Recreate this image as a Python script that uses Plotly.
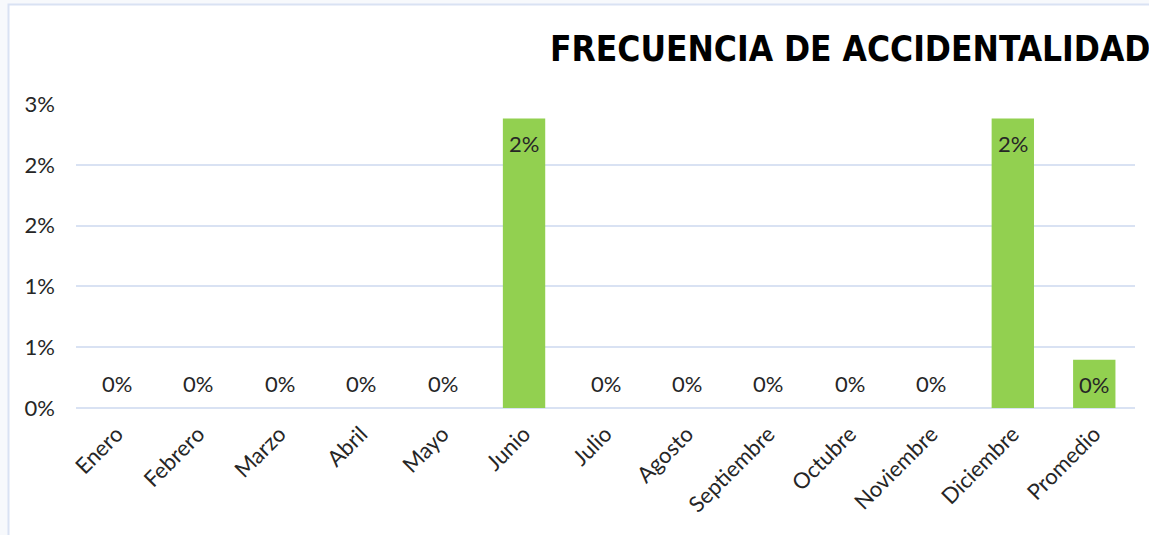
import plotly.graph_objects as go

meses = ["Enero", "Febrero", "Marzo", "Abril", "Mayo", "Junio", "Julio", "Agosto",
         "Septiembre", "Octubre", "Noviembre", "Diciembre", "Promedio"]
frecuencia = [0, 0, 0, 0, 0, 0.0238, 0, 0, 0, 0, 0, 0.0238, 0.00396]
etiquetas = ["0%", "0%", "0%", "0%", "0%", "2%", "0%", "0%", "0%", "0%", "0%", "2%", "0%"]
y_ticks = [0, 0.005, 0.01, 0.015, 0.02, 0.025]
y_ticktext = ["0%", "1%", "1%", "2%", "2%", "3%"]
titulo = "FRECUENCIA DE ACCIDENTALIDAD"

W, H = 1149, 535
L, R, T, B = 76, 14, 104, 127
pw, ph = W - L - R, H - T - B

FONT = "Lato, 'Open Sans', sans-serif"
TXT = "#262626"
GRID = "#d9e2f3"
FS = 22

fig = go.Figure()
fig.add_trace(go.Bar(x=meses, y=frecuencia, marker=dict(color="#92d050", line=dict(width=0)),
                     hoverinfo="skip"))

annotations = []
for m, v, t in zip(meses, frecuencia, etiquetas):
    annotations.append(dict(x=m, y=v, xref="x", yref="y", text=t, showarrow=False,
                            yanchor="middle", yshift=(-25 if v > 0 else 25),
                            font=dict(family=FONT, size=FS, color=TXT)))
annotations.append(dict(x=(548 - L) / pw, y=(H - B - 49) / ph, xref="paper", yref="paper",
                        xanchor="left", yanchor="middle", text="<b>" + titulo + "</b>",
                        showarrow=False,
                        font=dict(family="'Liberation Sans Narrow', 'DejaVu Sans Condensed', sans-serif",
                                  size=35, color="#000000")))

shapes = [dict(type="rect", xref="paper", yref="paper", layer="below",
               x0=(8.5 - L) / pw, x1=1.2, y0=-1.0, y1=(H - 4.5 - B) / ph,
               line=dict(color=GRID, width=2), fillcolor="white")]

fig.update_layout(
    width=W, height=H,
    margin=dict(l=L, r=R, t=T, b=B, pad=0),
    paper_bgcolor="#f7f9fc", plot_bgcolor="rgba(0,0,0,0)",
    bargap=0.48, showlegend=False,
    annotations=annotations, shapes=shapes,
    font=dict(family=FONT, size=FS, color=TXT),
)
fig.update_xaxes(tickangle=-45, showgrid=False, showline=False, zeroline=False,
                 tickfont=dict(family=FONT, size=FS, color=TXT), ticks="",
                 ticklabelstandoff=8)
fig.update_yaxes(range=[0, 0.025], tickvals=y_ticks, ticktext=y_ticktext,
                 showgrid=True, gridcolor=GRID, gridwidth=2, zeroline=True,
                 zerolinecolor=GRID, zerolinewidth=2, showline=False, ticks="",
                 ticklabelstandoff=20,
                 tickfont=dict(family=FONT, size=FS, color=TXT))

fig.write_html("out.html", config={"displayModeBar": False},
               post_script="document.body.style.margin='0';document.body.style.overflow='hidden';")
